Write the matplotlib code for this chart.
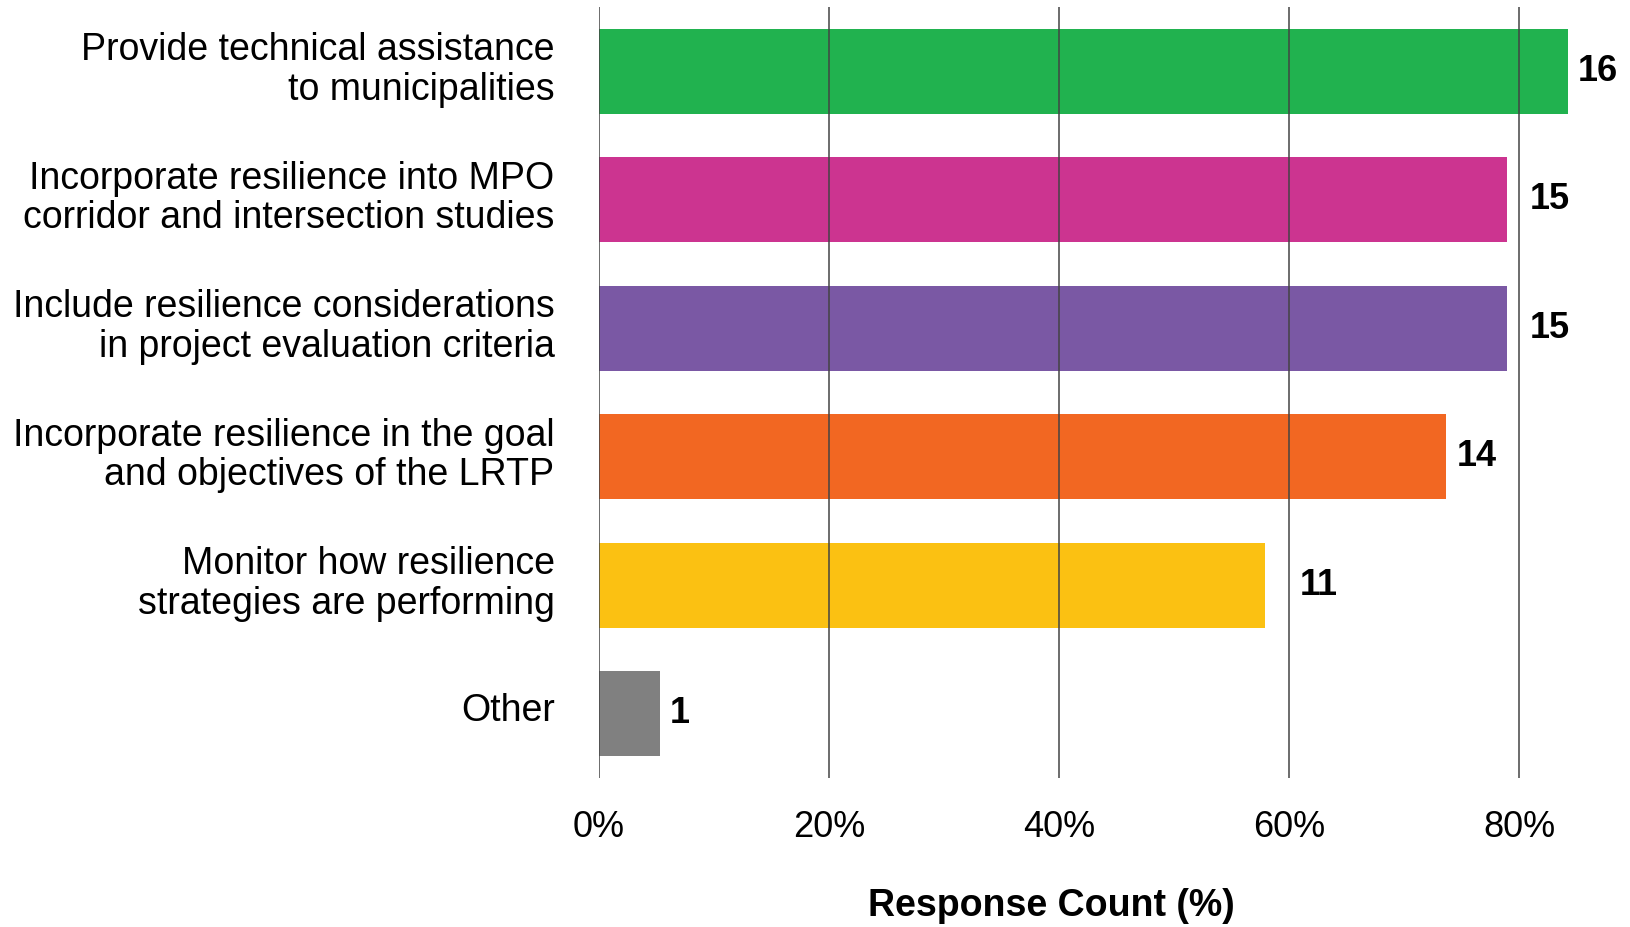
import matplotlib.pyplot as plt
import matplotlib.transforms as mtransforms
import numpy as np

# survey answers, counts out of 19 respondents
categories = [
    "Provide technical assistance\nto municipalities",
    "Incorporate resilience into MPO\ncorridor and intersection studies",
    "Include resilience considerations\nin project evaluation criteria",
    "Incorporate resilience in the goal\nand objectives of the LRTP",
    "Monitor how resilience\nstrategies are performing",
    "Other",
]
counts = [16, 15, 15, 14, 11, 1]
total = 19
colors = ["#21B24F", "#CC3490", "#7A58A4", "#F26722", "#FBC112", "#808080"]
xticks = [0, 20, 40, 60, 80]

plt.rcParams['font.family'] = ['Liberation Sans', 'DejaVu Sans']

percent = np.array(counts) / total * 100
y = np.arange(len(categories))

fig = plt.figure(figsize=(16.31, 9.27), dpi=100)
ax = fig.add_axes([0.3673, 0.1607, 0.6346, 0.8317])

ax.barh(y, percent, height=0.66, color=colors, zorder=3)
ax.set_ylim(len(categories) - 0.5, -0.5)
ax.set_xlim(0, 90)

# vertical gridlines only
for xv in xticks:
    ax.axvline(xv, color="#444444", linewidth=1.1, zorder=4)

# count labels: sit just right of the bar, but hop past a gridline if one is in the way
pad = 0.9      # in % units
label_w = 3.3  # rough width of a two-digit label in % units
for yi, p, c in zip(y, percent, counts):
    x0 = p + pad
    hits = [g for g in xticks if p <= g <= x0 + label_w]
    if hits:
        x0 = max(hits) + pad
    ax.text(x0, yi, str(c), ha="left", va="center", fontsize=26,
            fontweight="bold", zorder=5)

ax.set_xticks(xticks)
ax.set_xticklabels([f"{v}%" for v in xticks], fontsize=26)
ax.set_yticks(y)
ax.set_yticklabels(categories, fontsize=27, linespacing=1.12)
ax.tick_params(axis="both", length=0)
ax.tick_params(axis="y", pad=32)
ax.tick_params(axis="x", pad=23)

# nudge category labels up a little
shift = mtransforms.ScaledTranslation(0, 7 / 100, fig.dpi_scale_trans)
for lbl in ax.get_yticklabels():
    lbl.set_transform(lbl.get_transform() + shift)

for s in ax.spines.values():
    s.set_visible(False)

ax.set_xlabel("Response Count (%)", fontsize=27, fontweight="bold")
ax.xaxis.set_label_coords(0.437, -0.142)

fig.savefig("out.png", dpi=100)
